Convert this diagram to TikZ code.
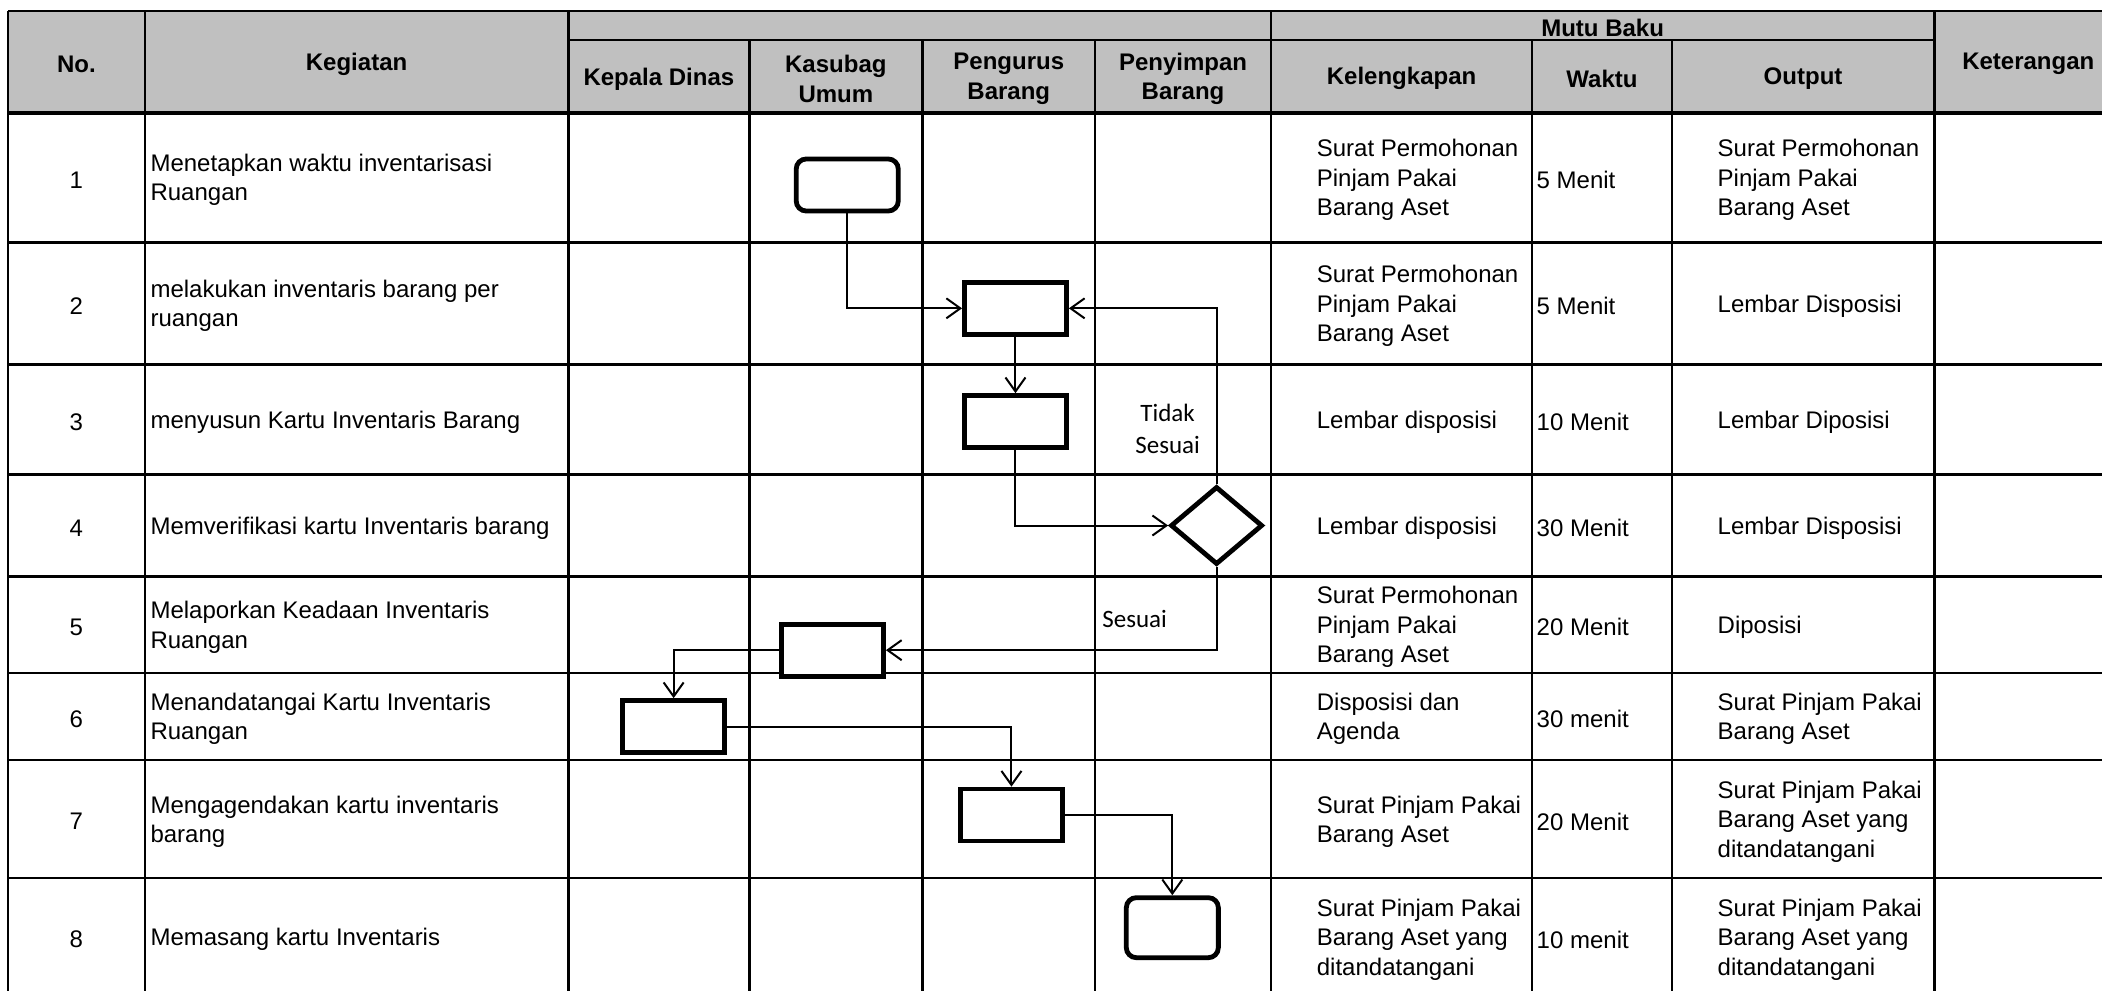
\documentclass[tikz,border=0pt]{standalone}
\usepackage{fontspec}
\setmainfont{Liberation Sans}
\newfontfamily\calibri{Carlito}
\usetikzlibrary{arrows.meta,shapes.geometric}
\definecolor{headgray}{RGB}{192,192,192}

\begin{document}
\begin{tikzpicture}[x=0.67pt,y=-0.67pt,
	every node/.style={font=\fontsize{12}{14.7}\selectfont, inner sep=0pt},
	hd/.style={font=\fontsize{12}{14.7}\selectfont\bfseries, align=center, yshift=-1.2pt},
	cell/.style={anchor=west, align=left, yshift=-1.2pt},
	grid/.style={line width=1.2pt},
	proc/.style={draw, fill=white, line width=2.4pt, minimum width=51pt, minimum height=26pt},
	term/.style={proc, rounded corners=5pt},
	dec/.style={draw, fill=white, diamond, line width=2.4pt, minimum width=46pt, minimum height=39pt},
	flow/.style={line width=1pt, -{Straight Barb[length=7pt,width=10pt]}},
	note/.style={font=\calibri\fontsize{12.5}{16}\selectfont}]
	\useasboundingbox (0,0) rectangle (1568,739);
	\clip (0,0) rectangle (1568,739);
	% table
	\fill[headgray] (6,8) rectangle (1583,84);
	\draw[grid] (6,8) -- (1583,8);
	\draw[grid] (424,30) -- (1443,30);
	\foreach \x in {6,108,424,948,1443,1583} \draw[grid] (\x,8) -- (\x,743);
	\foreach \x in {559,688,817,1143,1247} \draw[grid] (\x,30) -- (\x,743);
	\foreach \y in {181,272,354,430,502,567,655,743} \draw[grid] (6,\y) -- (1583,\y);
	\draw[line width=2pt] (6,84) -- (1583,84);
	% header
	\node[hd] (h-no) at (57,46) {No.};
	\node[hd] (h-keg) at (266,46) {Kegiatan};
	\node[hd] (h-ket) at (1513,46) {Keterangan};
	\node[hd] (h-mutu) at (1195.5,19) {Mutu Baku};
	\foreach \x/\t [count=\i] in {491.5/Kepala Dinas, 623.5/{Kasubag\\Umum}, 752.5/{Pengurus\\Barang}, 882.5/{Penyimpan\\Barang}, 1045.5/Kelengkapan, 1195/Waktu, 1345/Output}
		\node[hd] (h-\i) at (\x,57) {\t};
	% rows
	\foreach \n/\y/\keg/\kel/\wak/\out in {
		1/132.5/{Menetapkan waktu inventarisasi\\Ruangan}/{Surat Permohonan\\Pinjam Pakai\\Barang Aset}/5 Menit/{Surat Permohonan\\Pinjam Pakai\\Barang Aset},
		2/226.5/{melakukan inventaris barang per\\ruangan}/{Surat Permohonan\\Pinjam Pakai\\Barang Aset}/5 Menit/Lembar Disposisi,
		3/313/menyusun Kartu Inventaris Barang/Lembar disposisi/10 Menit/Lembar Diposisi,
		4/392/Memverifikasi kartu Inventaris barang/Lembar disposisi/30 Menit/Lembar Disposisi,
		5/466/{Melaporkan Keadaan Inventaris\\Ruangan}/{Surat Permohonan\\Pinjam Pakai\\Barang Aset}/20 Menit/Diposisi,
		6/534.5/{Menandatangai Kartu Inventaris\\Ruangan}/{Disposisi dan\\Agenda}/30 menit/{Surat Pinjam Pakai\\Barang Aset},
		7/611/{Mengagendakan kartu inventaris\\barang}/{Surat Pinjam Pakai\\Barang Aset}/20 Menit/{Surat Pinjam Pakai\\Barang Aset yang\\ditandatangani},
		8/699/Memasang kartu Inventaris/{Surat Pinjam Pakai\\Barang Aset yang\\ditandatangani}/10 menit/{Surat Pinjam Pakai\\Barang Aset yang\\ditandatangani}} {
		\node[yshift=-1.2pt] (no-\n) at (57,\y) {\n};
		\node[cell] (keg-\n) at (112,\y) {\keg};
		\node[cell] (kel-\n) at (982,\y) {\kel};
		\node[cell] (wak-\n) at (1146,\y) {\wak};
		\node[cell] (out-\n) at (1281,\y) {\out};
	}
	% flow
	\node[term] (s1) at (632,138) {};
	\node[proc] (s2) at (757.5,230) {};
	\node[proc] (s3) at (757.5,314.5) {};
	\node[dec] (d4) at (907.5,392) {};
	\node[proc] (s5) at (621,485) {};
	\node[proc] (s6) at (502.5,542) {};
	\node[proc] (s7) at (754.5,608) {};
	\node[term, minimum width=46pt, minimum height=30pt] (s8) at (874.5,692) {};
	\node[note, align=center] (tidak) at (871,320) {Tidak\\Sesuai};
	\node[note, anchor=west] (sesuai) at (822,462) {Sesuai};
	\draw[flow] (s1.south) |- (s2.west);
	\draw[flow] (d4.north) |- (s2.east);
	\draw[flow] (s2.south) -- (s3.north);
	\draw[flow] (s3.south) |- (d4.west);
	\draw[flow] (d4.south) |- (s5.east);
	\draw[flow] (s5.west) -| (s6.north);
	\draw[flow] (s6.east) -| (s7.north);
	\draw[flow] (s7.east) -| (s8.north);
\end{tikzpicture}
\end{document}
